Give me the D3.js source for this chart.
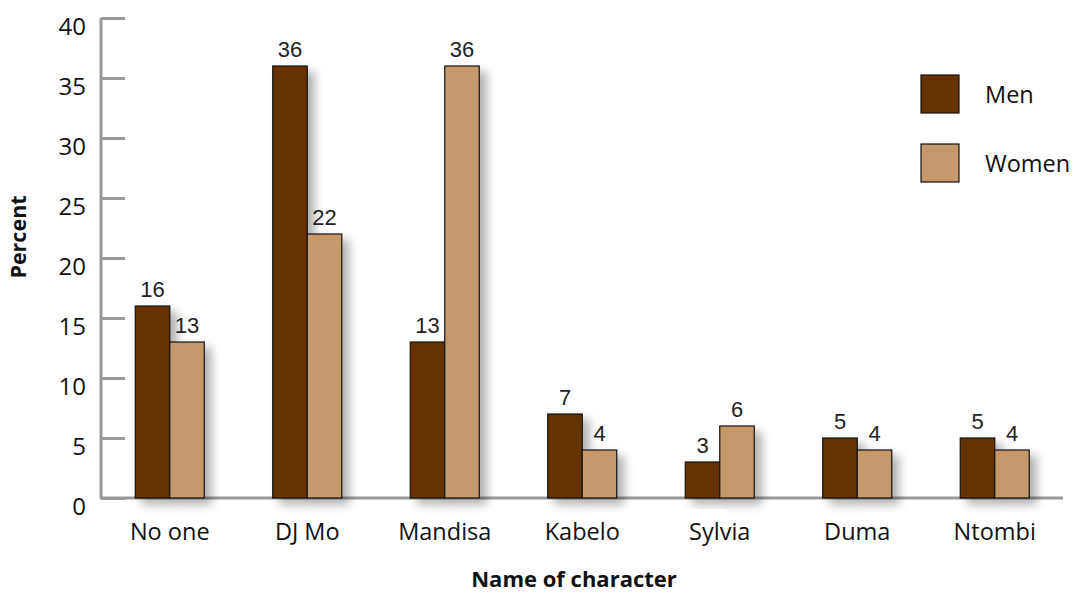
<!DOCTYPE html>
<html>
<head>
<meta charset="utf-8">
<script src="https://cdn.jsdelivr.net/npm/d3@7"></script>
<style>
  html, body { margin: 0; padding: 0; background: #fff; }
  svg { display: block; }
</style>
</head>
<body>
<svg id="chart" width="1073" height="593"></svg>
<script>
// Share of respondents naming each character, by sex
const characters = ["No one", "DJ Mo", "Mandisa", "Kabelo", "Sylvia", "Duma", "Ntombi"];
const men   = [16, 36, 13, 7, 3, 5, 5];
const women = [13, 22, 36, 4, 6, 4, 4];
const seriesNames = ["Men", "Women"];
const yTicks = [0, 5, 10, 15, 20, 25, 30, 35, 40];

const colors = { Men: "#663300", Women: "#C4996C" };
const tickFont = "'Open Sans', 'Noto Sans', sans-serif";
const valueFont = "'Liberation Sans', Arial, sans-serif";

const svg = d3.select("#chart");

const x = d3.scaleBand().domain(characters).range([101, 1063.5]).padding(0);
const y = d3.scaleLinear().domain([0, 40]).range([498, 18]);
const barW = 34.5;

// Soft drop shadow behind the bars
const defs = svg.append("defs");
const f = defs.append("filter").attr("id", "shadow")
  .attr("x", "-50%").attr("y", "-20%").attr("width", "220%").attr("height", "150%");
f.append("feDropShadow").attr("dx", 7).attr("dy", 6).attr("stdDeviation", 5)
  .attr("flood-color", "#000").attr("flood-opacity", 0.3);

// Y axis
const yAxis = d3.axisRight(y).tickValues(yTicks).tickSize(24).tickFormat("");
const gy = svg.append("g").attr("transform", "translate(101,0)").call(yAxis);
gy.select(".domain").attr("stroke", "#999").attr("stroke-width", 3)
  .attr("d", `M0,${y(40)}V${y(0)}`);
gy.selectAll(".tick line").attr("stroke", "#999").attr("stroke-width", 3);

svg.append("g").selectAll("text").data(yTicks).join("text")
  .attr("x", 86).attr("y", d => y(d) + 17)
  .attr("text-anchor", "end")
  .attr("font-family", tickFont).attr("font-size", 24).attr("fill", "#111")
  .text(d => d);

// X baseline
const xAxis = d3.axisBottom(x).tickSize(0).tickFormat("");
const gx = svg.append("g").attr("transform", `translate(0,${y(0)})`).call(xAxis);
gx.select(".domain").attr("stroke", "#999").attr("stroke-width", 3)
  .attr("d", "M100,0H1063");

// Bars
const rows = characters.map((c, i) => ({ c, vals: [men[i], women[i]] }));
const groups = svg.append("g").selectAll("g").data(rows).join("g");

groups.selectAll("rect").data(d => d.vals.map((v, j) => ({ c: d.c, v, s: seriesNames[j], j })))
  .join("rect")
  .attr("x", d => x(d.c) + x.bandwidth() / 2 - barW + d.j * barW)
  .attr("y", d => y(d.v))
  .attr("width", barW)
  .attr("height", d => y(0) - y(d.v))
  .attr("fill", d => colors[d.s])
  .attr("stroke", "#111").attr("stroke-width", 1.2)
  .attr("filter", "url(#shadow)");

groups.selectAll("text").data(d => d.vals.map((v, j) => ({ c: d.c, v, j })))
  .join("text")
  .attr("x", d => x(d.c) + x.bandwidth() / 2 - barW / 2 + d.j * barW)
  .attr("y", d => y(d.v) - 9)
  .attr("text-anchor", "middle")
  .attr("font-family", valueFont).attr("font-size", 22).attr("fill", "#222")
  .text(d => d.v);

// Category labels
svg.append("g").selectAll("text").data(characters).join("text")
  .attr("x", d => x(d) + x.bandwidth() / 2)
  .attr("y", 540)
  .attr("text-anchor", "middle")
  .attr("font-family", tickFont).attr("font-size", 23.5).attr("fill", "#111")
  .text(d => d);

// Axis titles
svg.append("text")
  .attr("x", 574).attr("y", 587)
  .attr("text-anchor", "middle")
  .attr("font-family", tickFont).attr("font-weight", "bold").attr("font-size", 22).attr("fill", "#111")
  .text("Name of character");

svg.append("text")
  .attr("transform", "translate(26,237) rotate(-90)")
  .attr("text-anchor", "middle")
  .attr("font-family", tickFont).attr("font-weight", "bold").attr("font-size", 21.5).attr("fill", "#111")
  .text("Percent");

// Legend
const legend = svg.append("g").selectAll("g").data(seriesNames).join("g")
  .attr("transform", (d, i) => `translate(921,${75 + i * 69})`);
legend.append("rect")
  .attr("width", 38).attr("height", 38)
  .attr("fill", d => colors[d]).attr("stroke", "#111").attr("stroke-width", 1.2);
legend.append("text")
  .attr("x", 64).attr("y", 28)
  .attr("font-family", tickFont).attr("font-size", 23.5).attr("fill", "#111")
  .text(d => d);
</script>
</body>
</html>
